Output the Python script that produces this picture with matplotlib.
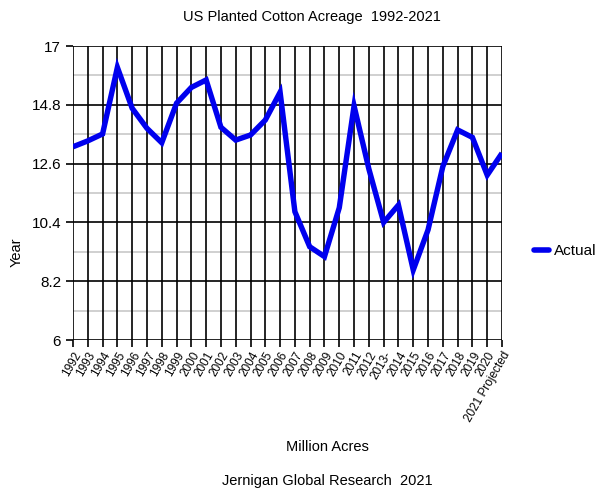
import matplotlib
matplotlib.use("Agg")
import matplotlib.pyplot as plt
import numpy as np

years = ["1992", "1993", "1994", "1995", "1996", "1997", "1998", "1999", "2000",
         "2001", "2002", "2003", "2004", "2005", "2006", "2007", "2008", "2009",
         "2010", "2011", "2012", "2013-", "2014", "2015", "2016", "2017", "2018",
         "2019", "2020", "2021 Projected"]
acres = [13.23, 13.45, 13.71, 16.20, 14.67, 13.92, 13.38, 14.86, 15.45,
         15.73, 13.96, 13.48, 13.67, 14.23, 15.27, 10.80, 9.49, 9.12,
         10.95, 14.76, 12.40, 10.40, 11.05, 8.62, 10.12, 12.49, 13.86,
         13.58, 12.17, 12.99]
y_ticks = [6, 8.2, 10.4, 12.6, 14.8, 17]

plt.rcParams["font.family"] = ["Liberation Sans", "DejaVu Sans"]

fig = plt.figure(figsize=(5.97, 4.93), dpi=100)
ax = fig.add_axes([73 / 597, 1 - 340 / 493, (502 - 73) / 597, (340 - 46) / 493])

x = np.arange(len(years))
ax.set_xlim(0, len(years) - 1)
ax.set_ylim(6, 17)

# grid: gray minor lines between the labelled values, black major lines
minor = [(a + b) / 2 for a, b in zip(y_ticks[:-1], y_ticks[1:])]
for v in minor:
    ax.axhline(v, color="#c8c8c8", lw=1.2, zorder=1)
for v in y_ticks:
    ax.axhline(v, color="black", lw=1.2, zorder=1)
for xi in x:
    ax.axvline(xi, color="black", lw=1.2, zorder=1)

ax.plot(x, acres, color="#0000ee", lw=3.9, solid_joinstyle="miter",
        solid_capstyle="butt", label="Actual", zorder=3)

for s in ax.spines.values():
    s.set_visible(False)

ax.set_yticks(y_ticks)
ax.set_yticklabels(["6", "8.2", "10.4", "12.6", "14.8", "17"], fontsize=11)
ax.set_xticks(x)
ax.set_xticklabels(years, rotation=60, ha="right", rotation_mode="anchor",
                   fontsize=8.5)
ax.tick_params(axis="both", direction="out", length=5, width=1.2, color="black")
ax.tick_params(axis="x", pad=2)

leg = fig.legend(loc="center left", bbox_to_anchor=(520 / 597, 1 - 251 / 493),
                 frameon=False, fontsize=11, handlelength=1.0, handletextpad=0.3)
for h in leg.get_lines():
    h.set_solid_capstyle("round")
    h.set_linewidth(4)

fig.text(312 / 597, 1 - 17 / 493, "US Planted Cotton Acreage  1992-2021",
         ha="center", va="center", fontsize=10.5)
fig.text(327 / 597, 1 - 447 / 493, "Million Acres", ha="center", va="center",
         fontsize=10.5)
fig.text(327 / 597, 1 - 481 / 493, "Jernigan Global Research  2021",
         ha="center", va="center", fontsize=10.5)
fig.text(17 / 597, 1 - 252 / 493, "Year", ha="center", va="center",
         rotation=90, fontsize=10.5)

fig.savefig("out.png", dpi=100)
